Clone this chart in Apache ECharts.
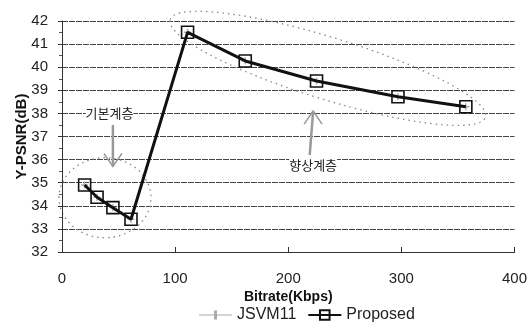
<!DOCTYPE html>
<html><head><meta charset="utf-8">
<script src="https://cdn.jsdelivr.net/npm/echarts@6/dist/echarts.min.js"></script>
<style>html,body{margin:0;padding:0;background:#fff}#c{width:530px;height:331px}</style>
</head><body><div id="c"></div>
<script>
const bitrate = [20, 31, 45, 61, 111, 162, 225, 297, 357];
const proposed = [34.9, 34.37, 33.92, 33.42, 41.51, 40.27, 39.4, 38.72, 38.29];
const jsvm11 = [34.9, 34.37, 33.92, 33.42, 41.51, 40.27, 39.4, 38.72, 38.29];
const xTicks = [0, 100, 200, 300, 400];
const yMin = 32, yMax = 42;

const chart = echarts.init(document.getElementById('c'));
const font = 'Liberation Sans, Arial, sans-serif';
chart.setOption({
  animation: false,
  backgroundColor: '#fff',
  grid: {left: 62, right: 13, top: 21, bottom: 79},
  legend: {
    bottom: 3, left: 194, itemGap: 11, itemWidth: 33, itemHeight: 12,
    textStyle: {fontFamily: font, fontSize: 16, color: '#222'},
    data: [
      {name: 'JSVM11', icon: 'path://M0,5L33,5L33,6L0,6Z M15,1L18,1L18,10L15,10Z'},
      {name: 'Proposed'}
    ]
  },
  xAxis: {
    type: 'value', min: 0, max: 400, interval: 100,
    name: 'Bitrate(Kbps)', nameLocation: 'middle', nameGap: 38, nameMoveOverlap: false,
    nameTextStyle: {fontFamily: font, fontSize: 14, fontWeight: 'bold', color: '#111'},
    axisLine: {show: true, lineStyle: {color: '#333', width: 1}},
    axisTick: {show: true, inside: true, length: 5, lineStyle: {color: '#333'}},
    axisLabel: {fontFamily: font, fontSize: 15, color: '#222', margin: 19,
      formatter: v => xTicks.includes(v) ? String(v) : ''},
    splitLine: {show: false}
  },
  yAxis: {
    type: 'value', min: yMin, max: yMax, interval: 1,
    name: 'Y-PSNR(dB)', nameLocation: 'middle', nameGap: 33, nameRotate: 90, nameMoveOverlap: false,
    nameTextStyle: {fontFamily: font, fontSize: 15, fontWeight: 'bold', color: '#111'},
    axisLine: {show: true, lineStyle: {color: '#333', width: 1}},
    axisTick: {show: true, length: 4, lineStyle: {color: '#333'}},
    minorTick: {show: true, splitNumber: 2, length: 3, lineStyle: {color: '#555'}},
    axisLabel: {fontFamily: font, fontSize: 15, color: '#222', margin: 14},
    splitLine: {show: true, lineStyle: {color: '#444', width: 1, type: [6, 1]}}
  },
  series: [
    {
      name: 'JSVM11', type: 'line',
      data: bitrate.map((x, i) => [x, jsvm11[i]]),
      symbol: 'path://M4,0L6,0L6,4L10,4L10,6L6,6L6,10L4,10L4,6L0,6L0,4L4,4Z', symbolSize: 7,
      lineStyle: {color: '#aaa', width: 1},
      itemStyle: {color: '#aaa'}, z: 1
    },
    {
      name: 'Proposed', type: 'line',
      data: bitrate.map((x, i) => [x, proposed[i]]),
      symbol: 'rect', symbolSize: 12,
      lineStyle: {color: '#111', width: 3},
      itemStyle: {color: 'rgba(255,255,255,0)', borderColor: '#111', borderWidth: 1.6}, z: 2
    }
  ]
});

function addAnnotations() {
  const p = (x, y) => chart.convertToPixel({gridIndex: 0}, [x, y]);
  const dot = {stroke: '#888', lineWidth: 1.3, lineDash: [1.5, 4], fill: 'none'};
  const e1 = p(38, 34.35);
  const e2 = p(235, 39.95);
  const a1 = p(45, 37.5), a1b = p(45, 35.7);
  const a2 = p(219, 36.2), a2b = p(222, 38.1);
  const t1 = p(42, 38.0), t2 = p(222, 35.75);
  chart.setOption({graphic: [
    {type: 'ellipse', shape: {cx: e1[0], cy: e1[1], rx: 46, ry: 40}, style: dot, silent: true},
    {type: 'ellipse', shape: {cx: e2[0], cy: e2[1], rx: 165, ry: 31}, rotation: -0.3, originX: e2[0], originY: e2[1], style: dot, silent: true},
    {type: 'polyline', shape: {points: [[a1[0], a1[1]], [a1b[0], a1b[1]]]}, style: {stroke: '#999', lineWidth: 2.5}},
    {type: 'polyline', shape: {points: [[a1b[0]-9, a1b[1]-13], [a1b[0], a1b[1]], [a1b[0]+9, a1b[1]-13]]}, style: {stroke: '#999', lineWidth: 1.5, fill: 'none'}},
    {type: 'polyline', shape: {points: [[a2[0], a2[1]], [a2b[0], a2b[1]]]}, style: {stroke: '#999', lineWidth: 2.5}},
    {type: 'polyline', shape: {points: [[a2b[0]-9, a2b[1]+13], [a2b[0], a2b[1]], [a2b[0]+9, a2b[1]+13]]}, style: {stroke: '#999', lineWidth: 1.5, fill: 'none'}},
    {type: 'text', style: {x: t1[0], y: t1[1], text: '기본계층', fill: '#222', font: '13px "Noto Sans CJK KR"', align: 'center', verticalAlign: 'middle', backgroundColor: '#fff'}},
    {type: 'text', style: {x: t2[0], y: t2[1], text: '향상계층', fill: '#222', font: '13px "Noto Sans CJK KR"', align: 'center', verticalAlign: 'middle', backgroundColor: '#fff'}}
  ]});
}
addAnnotations();
</script></body></html>
